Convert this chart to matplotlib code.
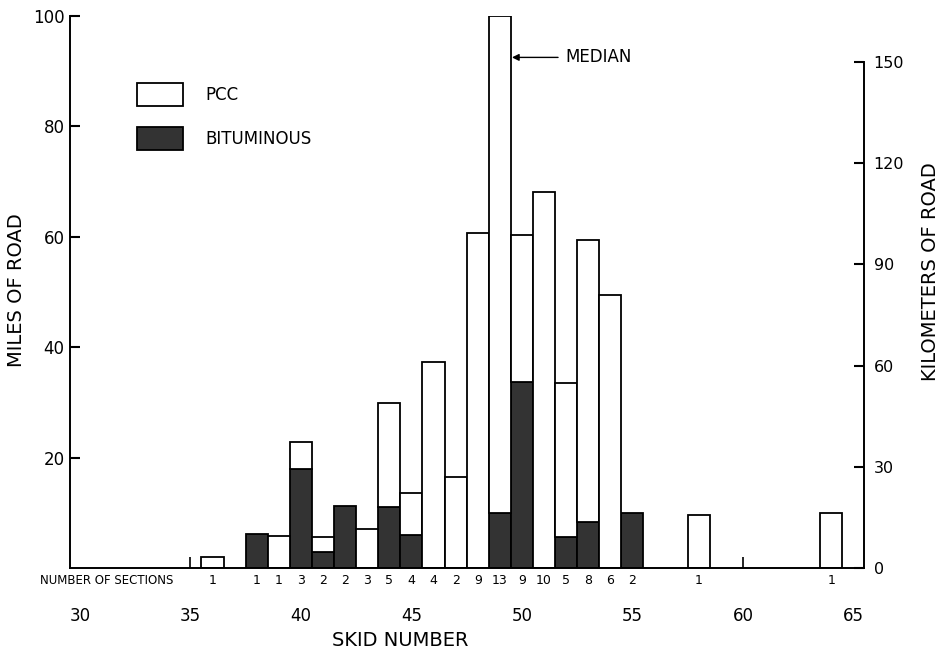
import matplotlib
matplotlib.use("Agg")
from matplotlib import pyplot as plt
from matplotlib.patches import Rectangle
import numpy as np

# values (miles of road per skid number)
skid = [36, 38, 39, 40, 41, 42, 43, 44, 45, 46, 47, 48, 49, 50, 51, 52, 53, 54, 55, 58, 64]
total = [2.0, 6.2, 5.8, 22.8, 5.6, 11.2, 7.1, 29.9, 13.6, 37.3, 16.5, 60.6, 100, 60.3, 68.2,
         33.5, 59.5, 49.4, 10.0, 9.6, 10.0]
bituminous = [0, 6.2, 0, 17.9, 2.9, 11.2, 0, 11.0, 6.0, 0, 0, 0, 10.0, 33.7, 0,
              5.6, 8.3, 0, 10.0, 0, 0]
sections = [1, 1, 1, 3, 2, 2, 3, 5, 4, 4, 2, 9, 13, 9, 10, 5, 8, 6, 2, 1, 1]

x_ticks = [30, 35, 40, 45, 50, 55, 60, 65]
x_marks = [35, 60]          # the only x tick marks left visible
left_ticks = [20, 40, 60, 80, 100]
right_ticks = [0, 30, 60, 90, 120, 150]

W, H = 940, 656
plt.rcParams['font.family'] = ['DejaVu Sans']

fig = plt.figure(figsize=(W / 100, H / 100), dpi=100)

def px(x, y):
    # pixel position (from top-left) -> figure fraction
    return x / W, 1 - y / H

x0, y0 = px(70, 568)
x1, y1 = px(864, 16)
ax = fig.add_axes([x0, y0, x1 - x0, y1 - y0])

skid_a = np.array(skid)
tot_a = np.array(total)
bit_a = np.array(bituminous)
pcc_a = tot_a - bit_a

dark = '#333333'
m = bit_a > 0
ax.bar(skid_a[m], bit_a[m], width=1.0, color=dark, edgecolor='black', linewidth=1.3, zorder=2)
m = pcc_a > 0
ax.bar(skid_a[m], pcc_a[m], bottom=bit_a[m], width=1.0, color='white', edgecolor='black',
       linewidth=1.3, zorder=2)

ax.set_xlim(29.55, 65.48)
ax.set_ylim(0, 100)
ax.xaxis.remove_overlapping_locs = False
ax.set_xticks(x_ticks)
ax.set_xticks(x_marks, minor=True)
ax.set_yticks(left_ticks)
ax.tick_params(axis='x', which='major', length=0, pad=28, labelsize=12)
ax.tick_params(axis='x', which='minor', direction='in', length=8, width=1.2)
ax.tick_params(axis='y', direction='in', length=7, width=1.5, pad=4, labelsize=12)
for s in ['top', 'right']:
    ax.spines[s].set_visible(False)
for s in ['left', 'bottom']:
    ax.spines[s].set_linewidth(1.4)

# kilometers axis on the right
ax2 = ax.twinx()
ax2.set_ylim(0, 163.6)
ax2.set_yticks(right_ticks)
for s in ['top', 'left', 'bottom']:
    ax2.spines[s].set_visible(False)
ax2.spines['right'].set_bounds(0, 150)
ax2.spines['right'].set_linewidth(1.4)
ax2.tick_params(axis='y', direction='in', length=7, width=1.5, pad=7, labelsize=11.5)

# number of sections row
tr = ax.get_xaxis_transform()
yrow = -12 / 552
ax.text(31.2, yrow, 'NUMBER OF SECTIONS', transform=tr, ha='center', va='center', fontsize=8.5)
for s, n in zip(skid, sections):
    ax.text(s, yrow, str(n), transform=tr, ha='center', va='center', fontsize=9)

# axis titles
fx, fy = px(17, 290)
fig.text(fx, fy, 'MILES OF ROAD', rotation=90, ha='center', va='center', fontsize=14)
fx, fy = px(930, 272)
fig.text(fx, fy, 'KILOMETERS OF ROAD', rotation=90, ha='center', va='center', fontsize=14)
fx, fy = px(400, 641)
fig.text(fx, fy, 'SKID NUMBER', ha='center', va='center', fontsize=14)

# median arrow
ax.annotate('MEDIAN', xy=(49.55, 92.5), xytext=(51.95, 92.5), ha='left', va='center',
            fontsize=12,
            arrowprops=dict(arrowstyle='-|>', color='black', lw=1.0, mutation_scale=10,
                            shrinkA=3, shrinkB=0))

# legend drawn by hand
for (ytop, face, label) in [(83, 'white', 'PCC'), (127, dark, 'BITUMINOUS')]:
    lx, ly = px(137, ytop + 23)
    w, h = 46 / W, 23 / H
    fig.add_artist(Rectangle((lx, ly), w, h, transform=fig.transFigure,
                             facecolor=face, edgecolor='black', linewidth=1.3))
    tx, ty = px(205, ytop + 12)
    fig.text(tx, ty, label, ha='left', va='center', fontsize=12)

plt.savefig('out.png', dpi=100)
